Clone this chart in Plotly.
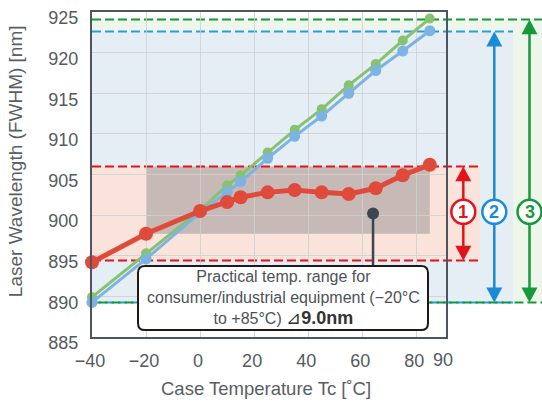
import plotly.graph_objects as go

# ---------------- data ----------------
temps = [-40, -20, 0, 10, 15, 25, 35, 45, 55, 65, 75, 85]
wl_1 = [894.2, 897.7, 900.5, 901.6, 902.2, 902.8, 903.1, 902.8, 902.6, 903.3, 904.9, 906.2]
wl_2 = [889.25, 894.6, 900.3, 902.8, 904.1, 907.0, 909.7, 912.2, 915.0, 917.8, 920.2, 922.7]
wl_3 = [889.9, 895.3, 900.6, 903.65, 904.9, 907.7, 910.5, 913.05, 916.0, 918.6, 921.5, 924.2]

range_1 = [894.4, 906.0]
range_2 = [889.25, 922.6]
range_3 = [889.25, 924.1]
practical_x = [-20, 85]
practical_y = [897.7, 906.0]
pointer = [64, 900.2]

x_ticks = [-40, -20, 0, 20, 40, 60, 80]
x_ticktext = ["\u221240", "\u221220", "0", "20", "40", "60", "80"]
x_end_tick = 90
y_ticks = [885, 890, 895, 900, 905, 910, 915, 920, 925]

X_RANGE = [-40, 91]
Y_RANGE = [884.99, 925.01]

# ---------------- layout geometry ----------------
W, H = 542, 402
ML, MR, MT, MB = 92, 96, 8, 65
PW = W - ML - MR
PH = H - MT - MB
PX_PER_Y = PH / (Y_RANGE[1] - Y_RANGE[0])

def px2paper(px):
    return (px - ML) / PW

def x2paper(x):
    return (x - X_RANGE[0]) / (X_RANGE[1] - X_RANGE[0])

def dy(px):  # pixel length -> data y length
    return px / PX_PER_Y

FONT = "Liberation Sans, Arial, sans-serif"
RED, BLUE, GREEN = "#e2131b", "#1a8bd5", "#15993b"
TICK_COLOR = "#555a60"

fig = go.Figure()

fig.add_trace(go.Scatter(x=temps, y=wl_3, mode="lines+markers",
                         line=dict(color="#86c26f", width=3),
                         marker=dict(size=10, color="#86c26f"), cliponaxis=False))
fig.add_trace(go.Scatter(x=temps, y=wl_2, mode="lines+markers",
                         line=dict(color="#7db3e3", width=3),
                         marker=dict(size=11, color="#7db3e3"), cliponaxis=False))
fig.add_trace(go.Scatter(x=temps, y=wl_1, mode="lines+markers",
                         line=dict(color="#e04a3b", width=5),
                         marker=dict(size=14, color="#e04a3b"), cliponaxis=False))

shapes = []
# shading
shapes.append(dict(type="rect", xref="paper", yref="y", x0=0, x1=px2paper(542),
                   y0=range_3[0], y1=range_3[1], fillcolor="#eef5eb", line_width=0, layer="below"))
shapes.append(dict(type="rect", xref="paper", yref="y", x0=0, x1=px2paper(513),
                   y0=range_2[0], y1=range_2[1], fillcolor="#e6eef5", line_width=0, layer="below"))
shapes.append(dict(type="rect", xref="paper", yref="y", x0=0, x1=px2paper(480),
                   y0=range_1[0], y1=range_1[1], fillcolor="#f9e3db", line_width=0, layer="below"))
shapes.append(dict(type="rect", xref="paper", yref="y", x0=x2paper(practical_x[0]), x1=x2paper(practical_x[1]),
                   y0=practical_y[0], y1=practical_y[1], fillcolor="#c6b9b6", line_width=0, layer="below"))
# dashed lines
for yv, xe, col, dash in [
    (range_3[1], 542, GREEN, "9px,4px"),
    (range_2[1], 513, "#2b9bdb", "9px,4px"),
    (range_1[1], 480, RED, "9px,4px"),
    (range_1[0], 480, RED, "9px,4px"),
    (range_2[0], 513, "#2b9bdb", "9px,4px"),
    (range_3[0], 542, GREEN, "2.5px,4px,6.5px,0px"),
]:
    shapes.append(dict(type="line", xref="paper", yref="y", x0=0, x1=px2paper(xe), y0=yv, y1=yv,
                       line=dict(color=col, width=2, dash=dash), layer="below"))

# arrows
CY = 900.4
HW, HL = 8, 15
def arrow(px, lo, hi, col):
    xp = px2paper(px)
    hw = HW / PW
    hl = dy(HL)
    shapes.append(dict(type="line", xref="paper", yref="y", x0=xp, x1=xp, y0=lo + hl * 0.9, y1=hi - hl * 0.9,
                       line=dict(color=col, width=2.5), layer="above"))
    shapes.append(dict(type="path", xref="paper", yref="y",
                       path=f"M {xp-hw},{hi-hl} L {xp+hw},{hi-hl} L {xp},{hi} Z",
                       fillcolor=col, line_width=0, layer="above"))
    shapes.append(dict(type="path", xref="paper", yref="y",
                       path=f"M {xp-hw},{lo+hl} L {xp+hw},{lo+hl} L {xp},{lo} Z",
                       fillcolor=col, line_width=0, layer="above"))

annotations = []
for px, rng, col, label in [(463.3, range_1, RED, "1"), (494.3, range_2, BLUE, "2"), (529.5, range_3, GREEN, "3")]:
    arrow(px, rng[0], rng[1], col)
    shapes.append(dict(type="circle", xref="paper", yref="y", xsizemode="pixel", ysizemode="pixel",
                       xanchor=px2paper(px), yanchor=CY, x0=-12, x1=12, y0=-12, y1=12,
                       fillcolor="white", line=dict(color=col, width=2.5), layer="above"))
    annotations.append(dict(xref="paper", yref="y", x=px2paper(px), y=CY, text=f"<b>{label}</b>",
                            showarrow=False, xanchor="center", yanchor="middle",
                            font=dict(family=FONT, size=18, color=col)))

# pointer line + dot
BOX_TOP = Y_RANGE[0] + (H - MB - 265) / PX_PER_Y
BOX_BOT = Y_RANGE[0] + (H - MB - 330) / PX_PER_Y
shapes.append(dict(type="line", xref="x", yref="y", x0=pointer[0], x1=pointer[0], y0=pointer[1], y1=BOX_TOP,
                   line=dict(color="#3d4550", width=2.5), layer="above"))
shapes.append(dict(type="circle", xref="x", yref="y", xsizemode="pixel", ysizemode="pixel",
                   xanchor=pointer[0], yanchor=pointer[1], x0=-6, x1=6, y0=-6, y1=6,
                   fillcolor="#3d4550", line_width=0, layer="above"))
# rounded box
bx0, bx1 = px2paper(138), px2paper(428)
rx, ry = 7 / PW, dy(7)
path = (f"M {bx0+rx},{BOX_TOP} L {bx1-rx},{BOX_TOP} Q {bx1},{BOX_TOP} {bx1},{BOX_TOP-ry} "
        f"L {bx1},{BOX_BOT+ry} Q {bx1},{BOX_BOT} {bx1-rx},{BOX_BOT} "
        f"L {bx0+rx},{BOX_BOT} Q {bx0},{BOX_BOT} {bx0},{BOX_BOT+ry} "
        f"L {bx0},{BOX_TOP-ry} Q {bx0},{BOX_TOP} {bx0+rx},{BOX_TOP} Z")
shapes.append(dict(type="path", xref="paper", yref="y", path=path, fillcolor="white",
                   line=dict(color="#231815", width=2), layer="above"))

annotations.append(dict(xref="paper", yref="y", x=(bx0 + bx1) / 2, y=(BOX_TOP + BOX_BOT) / 2,
                        text=("Practical temp. range for<br>consumer/industrial equipment (\u221220\u00b0C<br>"
                              "to +85\u00b0C) <span style='font-size:18px;color:#333333'>\u22bf<b>9.0nm</b></span>"),
                        showarrow=False, xanchor="center", yanchor="middle", align="center",
                        font=dict(family=FONT, size=16, color="#4d5257")))

# end tick label (no gridline at 90)
annotations.append(dict(xref="x", yref="paper", x=x_end_tick, y=(H - MB - 360) / PH,
                        text=str(x_end_tick), showarrow=False, xanchor="center", yanchor="middle",
                        font=dict(family=FONT, size=18, color=TICK_COLOR)))

# axis titles
annotations.append(dict(xref="paper", yref="paper", x=px2paper(266), y=(H - MB - 389) / PH,
                        text="Case Temperature Tc [\u02daC]", showarrow=False,
                        xanchor="center", yanchor="middle", font=dict(family=FONT, size=18.5, color="#595e64")))
annotations.append(dict(xref="paper", yref="paper", x=px2paper(15), y=(H - MB - 159) / PH,
                        text="Laser Wavelength (FWHM) [nm]", showarrow=False, textangle=-90,
                        xanchor="center", yanchor="middle", font=dict(family=FONT, size=19, color="#595e64")))

fig.update_layout(
    width=W, height=H, margin=dict(l=ML, r=MR, t=MT, b=MB),
    paper_bgcolor="white", plot_bgcolor="white", showlegend=False,
    shapes=shapes, annotations=annotations,
    font=dict(family=FONT),
)
fig.update_xaxes(range=X_RANGE, tickvals=x_ticks, ticktext=x_ticktext, showgrid=True,
                 gridcolor="rgba(208,208,208,0.85)", gridwidth=1, zeroline=False,
                 showline=True, linecolor="#4f555c", linewidth=2, mirror=True,
                 ticks="", ticklabelshift=-2, ticklabelstandoff=6,
                 tickfont=dict(family=FONT, size=18, color=TICK_COLOR))
fig.update_yaxes(range=Y_RANGE, tickvals=y_ticks, showgrid=True,
                 gridcolor="rgba(208,208,208,0.85)", gridwidth=1, zeroline=False,
                 showline=True, linecolor="#4f555c", linewidth=2, mirror=True,
                 ticks="", ticklabelshift=6, ticklabelstandoff=8,
                 tickfont=dict(family=FONT, size=18, color=TICK_COLOR))

fig.write_html("out.html", config={"displayModeBar": False},
               post_script="document.body.style.margin='0px';")
